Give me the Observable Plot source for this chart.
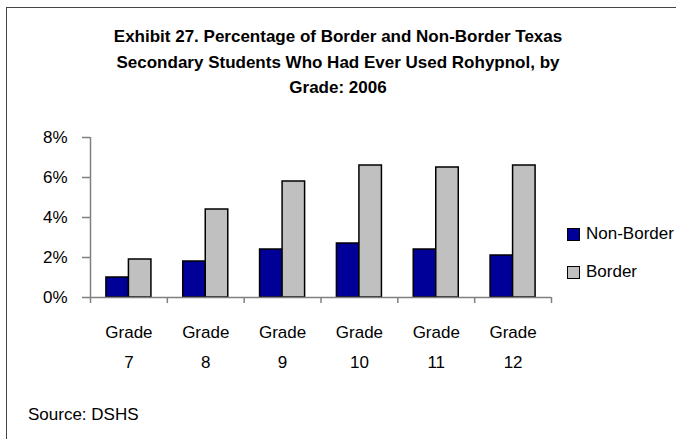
<!DOCTYPE html>
<html><head><meta charset="utf-8">
<script src="https://cdn.jsdelivr.net/npm/d3@7"></script>
<script src="https://cdn.jsdelivr.net/npm/@observablehq/plot@0.6"></script>
<style>
body{margin:0;background:#fff}
#wrap{position:relative;width:676px;height:439px;overflow:hidden;background:#fff;font-family:"Liberation Sans",Arial,sans-serif;color:#000}
#chart{position:absolute;left:0;top:0}
#frame{position:absolute;left:6px;top:7px;width:800px;height:600px;border-left:1.5px solid #444;border-top:1.5px solid #444}
#title{position:absolute;left:0;width:676px;top:24px;text-align:center;font-weight:bold;font-size:17px;line-height:25.5px}
#legend{position:absolute;left:567px;top:223px;font-size:17px;white-space:nowrap}
.item{display:flex;align-items:center;height:22px;margin-bottom:16px}
.sw{width:11px;height:11px;border:1.2px solid #000;margin-right:6px}
#source{position:absolute;left:28px;top:405px;font-size:17px}
</style></head>
<body>
<div id="wrap">
  <div id="chart"></div>
  <div id="frame"></div>
  <div id="title">Exhibit 27. Percentage of Border and Non-Border Texas<br>Secondary Students Who Had Ever Used Rohypnol, by<br>Grade: 2006</div>
  <div id="legend"></div>
  <div id="source">Source: DSHS</div>
</div>
<script>
const grades = ["7", "8", "9", "10", "11", "12"];
const series = ["Non-Border", "Border"];
const nonBorder = [1.0, 1.8, 2.4, 2.7, 2.4, 2.1];
const border = [1.9, 4.4, 5.8, 6.6, 6.5, 6.6];
const colors = ["#000099", "#C0C0C0"];
const yTicks = [0, 2, 4, 6, 8];

// layout: each grade occupies one unit on x; the pair of bars fills the middle of it
const groupFill = 0.586;             // share of each grade slot taken by its two bars
const side = (1 - groupFill) / 2;
const barW = groupFill / series.length;

const data = grades.flatMap((g, i) => [
  {grade: g, gi: i, si: 0, series: series[0], value: nonBorder[i]},
  {grade: g, gi: i, si: 1, series: series[1], value: border[i]}
]);

const W = 676, H = 439, mL = 90, mR = 125, mT = 137, mB = 142;
const font = '"Liberation Sans",Arial,sans-serif';
const gray = "#808080";

const chart = Plot.plot({
  width: W, height: H,
  marginLeft: mL, marginRight: mR, marginTop: mT, marginBottom: mB,
  style: {fontFamily: font, fontSize: "17px", color: "#000", background: "transparent"},
  x: {domain: [0, grades.length], axis: null, label: null},
  y: {domain: [0, 8], axis: null, label: null},
  color: {domain: series, range: colors},
  marks: [
    Plot.rectY(data, {
      x1: d => d.gi + side + d.si * barW,
      x2: d => d.gi + side + (d.si + 1) * barW,
      y: "value", fill: "series", stroke: "#000", strokeWidth: 1.5
    }),
    Plot.ruleY([0], {stroke: gray, strokeWidth: 1.5}),
    Plot.ruleX([0], {stroke: gray, strokeWidth: 1.5}),
    Plot.axisY({ticks: yTicks, tickFormat: d => d + "%", tickSize: 8, tickPadding: 15, stroke: gray, fill: "#000", strokeWidth: 1.5, label: null, fontSize: 17}),
    Plot.axisX({ticks: d3.range(grades.length + 1), tickSize: 6, tickFormat: () => "", stroke: gray, strokeWidth: 1.5, label: null}),
    Plot.axisX({ticks: grades.map((g, i) => i + 0.5), tickSize: 0, tickPadding: 19, tickFormat: t => "Grade\n" + grades[Math.floor(t)], lineHeight: 1.76, label: null, fontSize: 17, fill: "#000"})
  ]
});
document.getElementById("chart").appendChild(chart);

const legend = document.getElementById("legend");
series.forEach((s, i) => {
  const it = document.createElement("div");
  it.className = "item";
  it.innerHTML = `<div class="sw" style="background:${colors[i]}"></div><span>${s}</span>`;
  legend.appendChild(it);
});
</script>
</body></html>
